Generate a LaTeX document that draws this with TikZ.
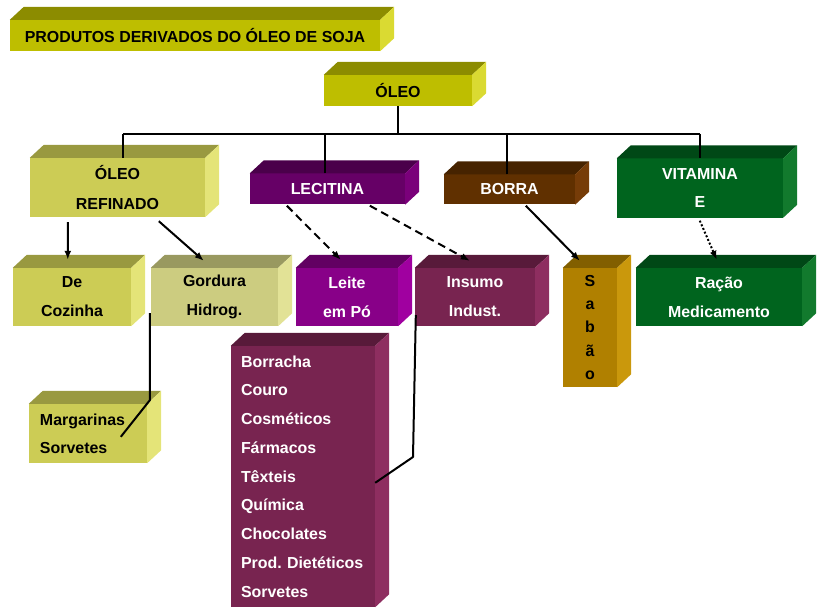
\documentclass[tikz,border=0pt]{standalone}
\usepackage{fontspec}
\setmainfont{Liberation Sans}
\usetikzlibrary{arrows.meta,calc}

% Box colours: front, top, side
\definecolor{oleoF}{RGB}{190,190,0}
\definecolor{oleoT}{RGB}{140,140,0}
\definecolor{oleoS}{RGB}{218,218,50}
\definecolor{refF}{RGB}{204,204,85}
\definecolor{refT}{RGB}{153,153,64}
\definecolor{refS}{RGB}{228,228,120}
\definecolor{gordF}{RGB}{204,204,128}
\definecolor{gordT}{RGB}{153,153,96}
\definecolor{gordS}{RGB}{226,226,150}
\definecolor{lecF}{RGB}{102,0,102}
\definecolor{lecT}{RGB}{74,0,74}
\definecolor{lecS}{RGB}{122,0,122}
\definecolor{leiteF}{RGB}{136,0,136}
\definecolor{leiteT}{RGB}{98,0,98}
\definecolor{leiteS}{RGB}{160,0,160}
\definecolor{insF}{RGB}{120,36,80}
\definecolor{insT}{RGB}{88,26,58}
\definecolor{insS}{RGB}{142,46,96}
\definecolor{borF}{RGB}{96,48,0}
\definecolor{borT}{RGB}{70,35,0}
\definecolor{borS}{RGB}{118,60,8}
\definecolor{sabF}{RGB}{176,128,0}
\definecolor{sabT}{RGB}{130,95,0}
\definecolor{sabS}{RGB}{202,152,12}
\definecolor{vitF}{RGB}{0,100,30}
\definecolor{vitT}{RGB}{0,72,22}
\definecolor{vitS}{RGB}{18,122,45}

% top and side faces of a box node
\newcommand{\cubefaces}[3]{%
  \fill[#2] (#1.north west) -- ++(\dx,\dy) -- ($(#1.north east)+(\dx,\dy)$) -- (#1.north east) -- cycle;
  \fill[#3] (#1.north east) -- ++(\dx,\dy) -- ($(#1.south east)+(\dx,\dy)$) -- (#1.south east) -- cycle;
}

\begin{document}
\begin{tikzpicture}[
    x=1bp, y=-1bp,
    >={Latex[length=9bp,width=7bp]},
    line join=round,
    font=\bfseries\fontsize{16}{30}\selectfont,
    cube/.style={inner sep=0pt, align=center},
    link/.style={line width=2bp}
]

\useasboundingbox (0,0) rectangle (818,612);

% Parameters
\def\dx{14}
\def\dy{-13}

% Top level
\node[cube, fill=oleoF, minimum width=370bp, minimum height=31bp] (title) at (195,35.5) {PRODUTOS DERIVADOS DO ÓLEO DE SOJA};
\node[cube, fill=oleoF, minimum width=148bp, minimum height=31bp] (oleo) at (398,90.5) {ÓLEO};

% First row
\node[cube, fill=refF, minimum width=175bp, minimum height=59bp] (refinado) at (117.5,187.5) {ÓLEO\\REFINADO};
\node[cube, fill=lecF, text=white, minimum width=155bp, minimum height=31bp] (lecitina) at (327.5,189) {LECITINA};
\node[cube, fill=borF, text=white, minimum width=131bp, minimum height=30bp] (borra) at (509.5,189.5) {BORRA};
\node[cube, fill=vitF, text=white, minimum width=166bp, minimum height=59bp, font=\bfseries\fontsize{16}{28}\selectfont] (vitamina) at (700,188) {VITAMINA\\E};

% Second row
\node[cube, fill=refF, minimum width=118bp, minimum height=58bp, font=\bfseries\fontsize{16}{29}\selectfont] (cozinha) at (72,297) {De\\Cozinha};
\node[cube, fill=gordF, minimum width=127bp, minimum height=58bp, font=\bfseries\fontsize{16}{29}\selectfont] (gordura) at (214.5,297) {Gordura\\Hidrog.};
\node[cube, fill=leiteF, text=white, minimum width=102bp, minimum height=58bp, font=\bfseries\fontsize{16}{29}\selectfont] (leite) at (347,297) {Leite\\em Pó};
\node[cube, fill=insF, text=white, minimum width=120bp, minimum height=58bp, font=\bfseries\fontsize{16}{29}\selectfont] (insumo) at (475,297) {Insumo\\Indust.};
\node[cube, fill=sabF, minimum width=54bp, minimum height=119bp, font=\bfseries\fontsize{16}{23.2}\selectfont] (sabao) at (590,327.5) {S\\a\\b\\ã\\o};
\node[cube, fill=vitF, text=white, minimum width=166bp, minimum height=58bp, font=\bfseries\fontsize{16}{29}\selectfont] (racao) at (719,297) {Ração\\Medicamento};

% Third row
\node[cube, fill=refF, minimum width=118bp, minimum height=59bp, text width=96bp, align=left, font=\bfseries\fontsize{16}{28}\selectfont] (margarinas) at (88,433.5) {Margarinas\\Sorvetes};
\node[cube, fill=insF, text=white, minimum width=144bp, minimum height=261bp, text width=124bp, align=left, font=\bfseries\fontsize{16}{28.9}\selectfont] (lista) at (303,476.5) {Borracha\\Couro\\Cosméticos\\Fármacos\\Têxteis\\Química\\Chocolates\\\mbox{Prod.\ Dietéticos}\\Sorvetes};

% Box depth
\cubefaces{title}{oleoT}{oleoS}
\cubefaces{oleo}{oleoT}{oleoS}
\cubefaces{refinado}{refT}{refS}
\cubefaces{lecitina}{lecT}{lecS}
\cubefaces{borra}{borT}{borS}
\cubefaces{vitamina}{vitT}{vitS}
\cubefaces{cozinha}{refT}{refS}
\cubefaces{gordura}{gordT}{gordS}
\cubefaces{leite}{leiteT}{leiteS}
\cubefaces{insumo}{insT}{insS}
\cubefaces{sabao}{sabT}{sabS}
\cubefaces{racao}{vitT}{vitS}
\cubefaces{margarinas}{refT}{refS}
\cubefaces{lista}{insT}{insS}

% Tree from OLEO
\coordinate (barL) at (123,134);
\coordinate (barR) at (700,134);
\draw[link] (barL) -- (barR);
\draw[link] (oleo.south) -- (oleo.south |- barL);
\draw[link] (barL) -- (barL |- refinado.north);
\draw[link] (lecitina.north -| 325,0) -- (325,134);
\draw[link] (borra.north -| 507,0) -- (507,134);
\draw[link] (barR) -- (barR |- vitamina.north);

% Arrows to second row
\draw[link,->] ($(refinado.south west)+(38,5)$) -- ($(cozinha.north west)+(55,-8)$);
\draw[link,->] ($(refinado.south west)+(129,4)$) -- ($(gordura.north west)+(53,-7)$);
\draw[link,->,dash pattern=on 8bp off 5bp] ($(lecitina.south west)+(37,1)$) -- ($(leite.north west)+(45,-8)$);
\draw[link,->,dash pattern=on 8bp off 5bp] ($(lecitina.south west)+(120,1)$) -- ($(insumo.north west)+(55,-7)$);
\draw[link,->] ($(borra.south west)+(82,1)$) -- ($(sabao.north west)+(17,-7)$);
\draw[link,->,dotted] ($(vitamina.south west)+(83,3)$) -- ($(racao.north west)+(81,-8)$);

% Lines to third row
\draw[link] ($(gordura.south west)+(-1,-13)$) |- (150,400) -- ($(margarinas.north west)+(92,33)$);
\draw[link] ($(insumo.south west)+(1,-11)$) -- (413,457) -- ($(lista.north east)+(0,137)$);

\end{tikzpicture}
\end{document}
